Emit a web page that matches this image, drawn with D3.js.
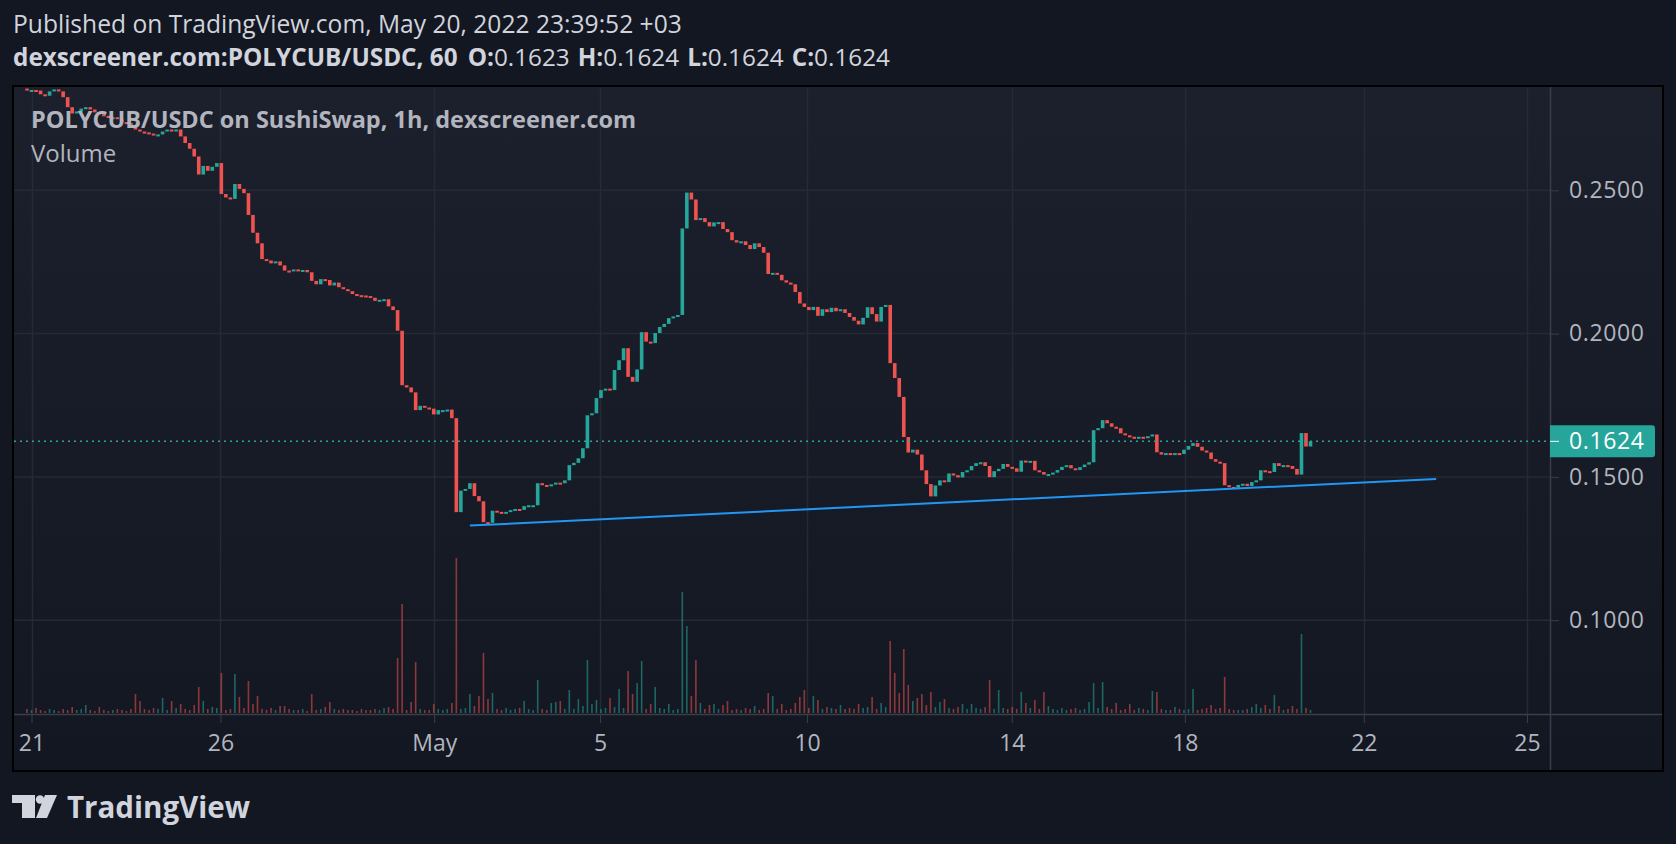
<!DOCTYPE html>
<html>
<head>
<meta charset="utf-8">
<script src="https://cdn.jsdelivr.net/npm/d3@7"></script>
<style>
  html, body { margin: 0; padding: 0; background: #131722; }
  svg { display: block; font-family: "Open Sans", "Noto Sans", sans-serif; }
</style>
</head>
<body>
<svg id="chart" width="1676" height="844"></svg>
<script>
// ---- data (one value per 2 hourly bars) ----
const first_open = 0.2855
const closes = [
  .2850,.2850,.2848,.2835,.2830,.2845,.2852,.2845,.2825,.2790,
  .2768,.2775,.2785,.2790,.2782,.2772,.2765,.2760,.2752,.2755,
  .2748,.2738,.2735,.2725,.2712,.2705,.2702,.2698,.2693,.2695,
  .2705,.2712,.2706,.2712,.2688,.2665,.2645,.2618,.2555,.2585,
  .2568,.2582,.2595,.2487,.2475,.2470,.2522,.2505,.2490,.2414,
  .2352,.2315,.2260,.2255,.2245,.2252,.2238,.2220,.2218,.2224,
  .2218,.2222,.2214,.2184,.2172,.2190,.2187,.2168,.2178,.2162,
  .2155,.2148,.2138,.2134,.2133,.2131,.2125,.2114,.2118,.2120,
  .2095,.2082,.2010,.1820,.1812,.1795,.1733,.1748,.1742,.1738,
  .1718,.1733,.1733,.1735,.1705,.1377,.1452,.1458,.1478,.1433,
  .1415,.1342,.1340,.1382,.1378,.1374,.1378,.1384,.1388,.1385,
  .1398,.1401,.1401,.1478,.1472,.1468,.1474,.1480,.1478,.1488,
  .1541,.1549,.1565,.1600,.1715,.1722,.1775,.1803,.1808,.1803,
  .1873,.1907,.1949,.1849,.1832,.1875,.2005,.1972,.1967,.2002,
  .2023,.2034,.2054,.2060,.2065,.2367,.2492,.2468,.2396,.2403,
  .2389,.2374,.2388,.2389,.2365,.2354,.2326,.2318,.2322,.2309,
  .2295,.2315,.2302,.2282,.2208,.2212,.2205,.2186,.2178,.2172,
  .2145,.2105,.2093,.2082,.2093,.2062,.2085,.2075,.2090,.2078,
  .2085,.2072,.2058,.2045,.2032,.2055,.2092,.2068,.2042,.2093,
  .2100,.1897,.1845,.1779,.1639,.1585,.1595,.1578,.1523,.1475,
  .1432,.1470,.1488,.1482,.1512,.1506,.1498,.1517,.1523,.1538,
  .1548,.1551,.1538,.1499,.1520,.1528,.1545,.1535,.1530,.1518,
  .1557,.1552,.1556,.1523,.1517,.1508,.1510,.1515,.1524,.1535,
  .1541,.1530,.1524,.1534,.1543,.1551,.1663,.1670,.1698,.1687,
  .1675,.1670,.1652,.1645,.1640,.1636,.1640,.1635,.1642,.1648,
  .1586,.1578,.1583,.1576,.1583,.1580,.1595,.1608,.1618,.1605,
  .1592,.1585,.1562,.1553,.1548,.1471,.1465,.1462,.1472,.1476,
  .1468,.1482,.1488,.1523,.1520,.1517,.1548,.1538,.1541,.1538,
  .1528,.1508,.1653,.1606,.1624
]
const volumes = [
  4,3,5,3,2,4,3,2,4,3,
  6,3,4,8,3,2,6,3,2,3,
  4,3,2,4,19,12,4,3,5,4,
  15,3,12,5,9,4,3,8,26,12,
  4,6,5,40,3,4,39,16,5,32,
  9,17,4,3,5,3,7,7,4,3,
  3,4,2,19,3,4,6,11,4,3,
  4,3,3,2,4,3,3,4,3,5,
  6,4,55,109,3,11,51,4,3,3,
  9,4,3,4,10,155,4,5,19,7,
  17,60,14,20,4,3,5,3,4,5,
  12,4,3,33,4,3,10,11,12,4,
  23,4,14,7,53,9,13,4,5,15,
  6,24,5,42,19,30,52,4,9,26,
  5,4,9,3,4,121,87,17,53,10,
  4,8,9,4,8,12,3,4,3,5,
  4,7,3,4,20,17,4,9,3,4,
  10,16,23,5,17,13,4,6,5,4,
  8,4,5,4,9,5,6,16,4,10,
  6,72,40,20,64,28,12,15,19,8,
  21,6,11,14,5,4,6,9,4,9,
  5,4,6,33,4,23,5,4,6,4,
  21,10,5,13,4,21,7,4,3,5,
  3,4,5,3,4,11,30,5,31,6,
  4,10,3,4,9,3,5,4,3,22,
  21,4,3,3,6,4,3,4,24,3,
  4,5,8,4,5,36,4,3,3,3,
  4,6,9,5,8,4,18,7,3,4,
  7,4,79,5,3
]
const last_price = 0.1624
const price_ticks = [0.10, 0.15, 0.20, 0.25]
const time_labels = ["21", "26", "May", "5", "10", "14", "18", "22", "25"]
const time_label_idx = [1, 42.8, 90.1, 126.8, 172.6, 217.9, 256.2, 295.8, 331.9]
const trend_idx = [98.0, 311.8]
const trend_price = [0.1330, 0.1493]

// ---- layout ----
const box = {left: 14, top: 87, right: 1662, bottom: 770}
const plot_right = 1550
const time_axis_top = 714
const c_up = "#26a69a", c_down = "#ef5350"
const c_text = "#b2b5be", c_head = "#d1d4dc"
const c_grid = "#262a35", c_sep = "#3a3e4a"

const svg = d3.select("#chart")

const xs = d3.scaleLinear().domain([0, 331.9]).range([27, 1527])
const ys = d3.scaleLinear().domain([0.10, 0.25]).range([620.2, 190.3])
const yv = d3.scaleLinear().domain([0, 155]).range([713, 558])

// background gradient + plot clip
const defs = svg.append("defs")
const grad = defs.append("linearGradient").attr("id", "bg").attr("x1", 0).attr("y1", 0).attr("x2", 0).attr("y2", 1)
grad.append("stop").attr("offset", 0).attr("stop-color", "#1c202c")
grad.append("stop").attr("offset", 1).attr("stop-color", "#131722")
defs.append("clipPath").attr("id", "plot-clip")
  .append("rect").attr("x", box.left).attr("y", box.top)
  .attr("width", plot_right - box.left).attr("height", time_axis_top - box.top)

svg.append("rect")
  .attr("x", box.left).attr("y", box.top)
  .attr("width", box.right - box.left).attr("height", box.bottom - box.top)
  .attr("fill", "url(#bg)")

// grid
const grid = svg.append("g")
grid.selectAll("line.v").data(time_label_idx).join("line")
  .attr("x1", d => Math.round(xs(d)) + 0.5).attr("x2", d => Math.round(xs(d)) + 0.5)
  .attr("y1", box.top).attr("y2", time_axis_top)
  .attr("stroke", c_grid).attr("stroke-width", 1.5)
grid.selectAll("line.h").data(price_ticks).join("line")
  .attr("x1", box.left).attr("x2", plot_right)
  .attr("y1", d => ys(d)).attr("y2", d => ys(d))
  .attr("stroke", c_grid).attr("stroke-width", 1.5)

// series
const bars = closes.map((c, i) => {
  const o = i ? closes[i - 1] : first_open
  return {i: i, o: o, c: c, up: c >= o, v: volumes[i]}
})

const plot = svg.append("g").attr("clip-path", "url(#plot-clip)")

plot.selectAll("rect.vol").data(bars).join("rect")
  .attr("x", d => xs(d.i) - 0.8).attr("width", 1.6)
  .attr("y", d => yv(d.v)).attr("height", d => yv(0) - yv(d.v))
  .attr("fill", d => d.up ? c_up : c_down).attr("opacity", 0.55)

const bw = 3.6
plot.selectAll("rect.candle").data(bars).join("rect")
  .attr("x", d => xs(d.i) - bw / 2).attr("width", bw)
  .attr("y", d => ys(Math.max(d.o, d.c)))
  .attr("height", d => Math.max(2, Math.abs(ys(d.o) - ys(d.c))))
  .attr("fill", d => d.up ? c_up : c_down)

// last price line
plot.append("line")
  .attr("x1", box.left).attr("x2", plot_right)
  .attr("y1", ys(last_price)).attr("y2", ys(last_price))
  .attr("stroke", c_up).attr("stroke-width", 1.5).attr("stroke-dasharray", "2 4")

// trend line
plot.append("line")
  .attr("x1", xs(trend_idx[0])).attr("y1", ys(trend_price[0]))
  .attr("x2", xs(trend_idx[1])).attr("y2", ys(trend_price[1]))
  .attr("stroke", "#2196f3").attr("stroke-width", 2)

// separators
svg.append("line").attr("x1", plot_right + 0.5).attr("x2", plot_right + 0.5)
  .attr("y1", box.top).attr("y2", box.bottom).attr("stroke", c_sep).attr("stroke-width", 1.5)
svg.append("line").attr("x1", box.left).attr("x2", box.right)
  .attr("y1", time_axis_top + 0.5).attr("y2", time_axis_top + 0.5).attr("stroke", c_sep).attr("stroke-width", 1.5)

// price axis
const y_axis = svg.append("g").attr("transform", `translate(${plot_right},0)`)
  .call(d3.axisRight(ys).tickValues(price_ticks).tickFormat(d3.format(".4f")).tickSize(9).tickPadding(10))
y_axis.select(".domain").remove()
y_axis.selectAll("line").attr("stroke", c_sep)
y_axis.selectAll("text").attr("fill", c_text).attr("font-size", 23)
  .attr("font-family", "\"Open Sans\", sans-serif").attr("letter-spacing", 0.6)

// time axis
const x_axis = svg.append("g").attr("transform", `translate(0,${time_axis_top})`)
  .call(d3.axisBottom(xs).tickValues(time_label_idx).tickFormat((d, i) => time_labels[i]).tickSize(9).tickPadding(12))
x_axis.select(".domain").remove()
x_axis.selectAll("line").attr("stroke", c_sep)
x_axis.selectAll("text").attr("fill", c_text).attr("font-size", 23)
  .attr("font-family", "\"Open Sans\", sans-serif")

// last price label
const ly = ys(last_price)
svg.append("path")
  .attr("d", `M${plot_right},${ly - 16} H${1652} q3,0 3,3 V${ly + 13} q0,3 -3,3 H${plot_right} Z`)
  .attr("fill", c_up)
svg.append("line").attr("x1", plot_right).attr("x2", plot_right + 9)
  .attr("y1", ly).attr("y2", ly).attr("stroke", "#ffffff").attr("stroke-width", 1)
svg.append("text").attr("x", 1569).attr("y", ly).attr("dy", "0.35em")
  .attr("fill", "#ffffff").attr("font-size", 23).attr("letter-spacing", 0.6)
  .text(d3.format(".4f")(last_price))

// border
svg.append("rect")
  .attr("x", box.left - 1).attr("y", box.top - 1)
  .attr("width", box.right - box.left + 2).attr("height", box.bottom - box.top + 2)
  .attr("fill", "none").attr("stroke", "#000000").attr("stroke-width", 2)

// legend inside chart
svg.append("text").attr("x", 31).attr("y", 128).attr("fill", c_text)
  .attr("font-size", 23.5).attr("font-weight", 700)
  .text("POLYCUB/USDC on SushiSwap, 1h, dexscreener.com")
svg.append("text").attr("x", 31).attr("y", 162).attr("fill", c_text)
  .attr("font-size", 24)
  .text("Volume")

// header
svg.append("text").attr("x", 13).attr("y", 33).attr("fill", c_head)
  .attr("font-size", 24.6)
  .text("Published on TradingView.com, May 20, 2022 23:39:52 +03")

const head2 = svg.append("text").attr("x", 13).attr("y", 66).attr("fill", c_head).attr("font-size", 24.3)
const head2_parts = [
  ["dexscreener.com:POLYCUB/USDC, 60", 700, 0],
  ["O:", 700, 10], ["0.1623", 400, 0],
  ["H:", 700, 8], ["0.1624", 400, 0],
  ["L:", 700, 8], ["0.1624", 400, 0],
  ["C:", 700, 8], ["0.1624", 400, 0]
]
head2_parts.forEach(p => head2.append("tspan").attr("font-weight", p[1]).attr("dx", p[2]).text(p[0]))

// logo
const logo = svg.append("g").attr("fill", c_head)
logo.append("path").attr("d", "M12,795 H35 V818 H22 V803 H12 Z")
logo.append("circle").attr("cx", 40).attr("cy", 799.5).attr("r", 4.2)
logo.append("path").attr("d", "M45,795 H57 L47,818 H36 Z")
logo.append("text").attr("x", 67).attr("y", 818).attr("font-size", 31).attr("font-weight", 700)
  .attr("textLength", 183).attr("lengthAdjust", "spacingAndGlyphs")
  .text("TradingView")
</script>
</body>
</html>
